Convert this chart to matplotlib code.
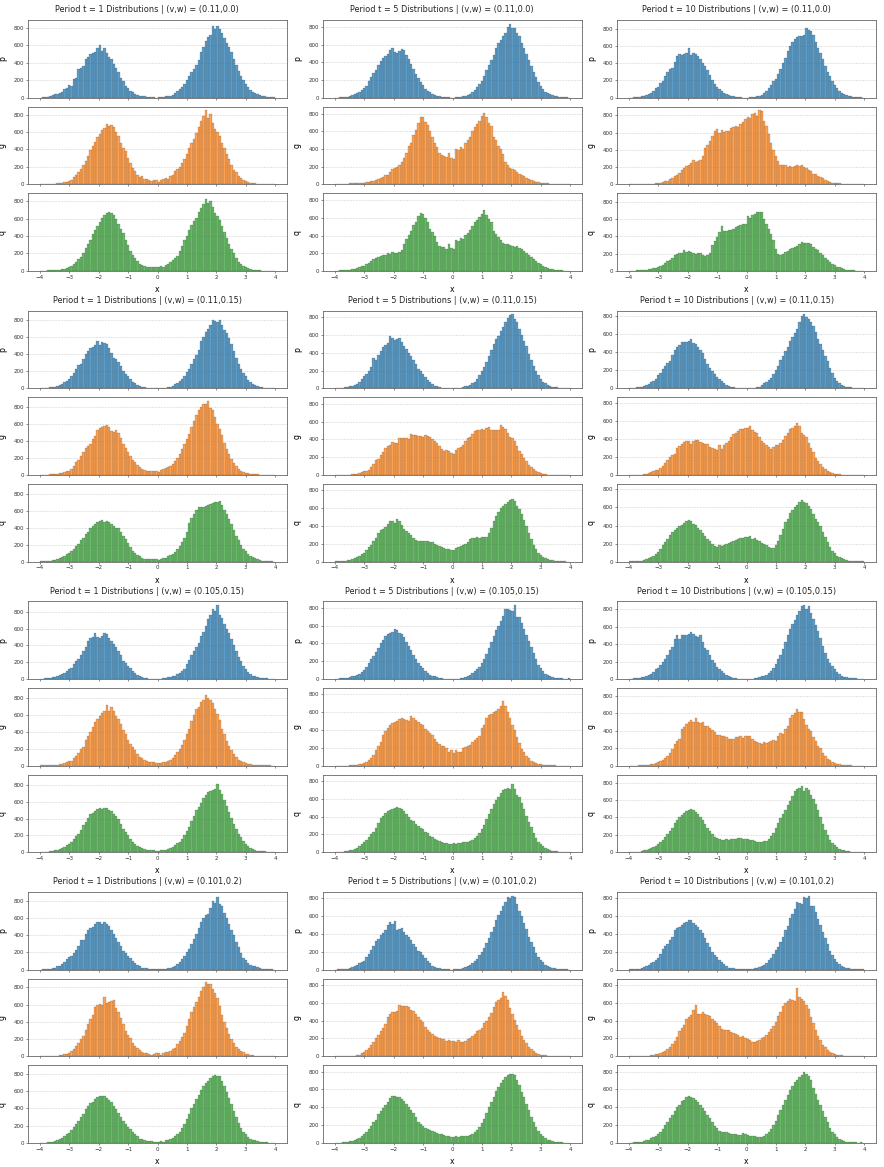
import numpy as np
import matplotlib
matplotlib.use("Agg")
import matplotlib.pyplot as plt

# ---------------- data (bin counts, 100 bins on [-4, 4]) ----------------
bin_edges = np.linspace(-4, 4, 101)
periods = [1, 5, 10]
vw_labels = ["(0.11,0.0)", "(0.11,0.15)", "(0.105,0.15)", "(0.101,0.2)"]
var_names = ["p", "g", "q"]
var_colors = ["#1f77b4", "#ff7f0e", "#2ca02c"]

g1_t1_p = [0,3,5,8,15,30,38,42,50,70, 95,110,150,130,210,230,330,345,360,450,
           470,500,515,520,570,600,540,570,510,470, 450,390,340,290,230,190,140,110,80,60,
           45,35,25,20,15,10,10,5,3,2, 3,5,10,15,20,25,35,50,75,95,
           120,160,200,250,290,330,380,430,520,580, 650,700,720,820,790,820,790,740,690,630,
           580,520,450,380,310,250,200,160,120,90, 70,50,40,28,20,14,10,6,5,8]
g1_t1_g = [5,0,3,5,5,8,8,12,15,20, 25,30,40,55,80,110,140,180,220,270,
           330,390,440,490,540,580,620,650,690,670, 680,660,600,560,470,420,380,300,250,190,
           150,110,80,90,60,60,50,40,55,45, 30,55,60,70,60,90,110,150,180,200,
           250,290,350,420,470,520,590,660,730,790, 850,760,810,700,640,600,560,470,420,350,
           290,220,170,140,100,70,50,40,30,20, 15,10,8,5,3,0,0,0,0,0]
g1_t1_q = [0,2,3,5,5,7,8,10,13,17, 22,30,40,55,75,100,135,160,210,260,
           310,360,420,470,520,560,610,640,660,680, 660,640,600,540,480,430,360,300,230,180,
           150,110,80,65,55,45,40,50,45,40, 40,60,50,65,80,100,125,150,175,230,
           290,350,400,470,530,570,610,680,720,770, 830,780,800,730,670,630,580,520,450,380,
           310,250,200,150,105,75,55,40,28,20, 14,10,7,5,3,2,0,0,0,0]
g1_t5_p = [0,0,3,5,10,12,20,30,40,55, 70,90,110,130,190,230,280,320,370,420,
           450,470,500,540,560,520,510,530,550,540, 480,440,380,330,270,220,180,140,100,80,
           60,45,30,20,15,10,8,5,3,2, 0,3,5,10,15,20,30,45,60,85,
           120,160,190,250,310,370,430,490,560,620, 660,700,740,800,840,790,790,740,700,620,
           560,500,430,360,290,230,180,130,100,70, 55,40,28,20,14,10,7,5,3,2]
g1_t5_g = [0,0,0,0,3,6,10,10,12,14, 15,18,20,28,30,33,40,50,58,70,
           85,100,110,140,170,185,195,220,250,300, 360,430,470,560,620,700,760,760,710,670,
           600,540,470,420,350,330,320,310,350,300, 290,400,390,420,400,470,500,540,610,650,
           680,720,780,810,760,700,660,540,500,440, 400,340,250,220,190,175,165,140,115,100,
           90,75,55,45,35,28,22,16,14,12, 10,8,6,5,4,3,0,0,0,0]
g1_t5_q = [2,3,5,6,8,10,14,18,25,32, 40,50,60,75,90,110,130,150,160,165,
           175,185,200,190,210,205,200,210,235,300, 360,410,450,520,560,620,660,650,600,550,
           480,440,400,330,280,270,270,250,300,255, 250,350,340,370,360,410,430,460,510,550,
           580,610,650,690,640,590,550,450,420,380, 350,320,300,300,290,280,270,280,265,250,
           230,200,180,155,130,110,95,80,60,45, 35,25,18,13,10,7,5,4,3,2]
g1_t10_p = [0,0,3,5,10,15,22,30,45,60, 80,110,130,170,190,250,300,330,350,420,
            480,510,500,510,520,580,500,520,510,480, 450,400,370,320,260,200,160,130,100,80,
            60,45,30,20,15,10,6,4,2,0, 2,4,8,12,18,25,35,55,80,110,
            150,190,220,280,330,400,460,540,600,650, 680,700,720,720,730,810,790,780,730,650,
            580,520,450,370,300,250,190,150,110,80, 60,45,30,22,15,10,7,5,3,2]
g1_t10_g = [0,0,0,0,0,0,0,0,3,4, 5,10,15,18,25,35,42,60,75,95,
            110,135,170,195,215,225,245,280,260,265, 280,330,420,460,500,560,620,640,600,630,
            610,620,620,650,670,680,670,700,720,760, 780,770,820,830,790,860,850,740,680,580,
            480,400,330,270,220,220,230,200,210,200, 210,220,210,220,200,190,170,160,125,115,
            100,85,70,55,35,25,20,15,12,10, 8,6,5,3,0,0,0,0,0,0]
g1_t10_q = [2,3,4,5,8,10,12,15,18,24, 30,35,42,55,70,90,110,130,155,180,
            195,205,210,240,220,230,220,210,200,210, 210,180,170,180,210,300,350,390,450,520,
            460,460,470,480,490,510,520,530,540,550, 640,620,650,660,680,690,680,600,540,490,
            430,360,260,200,180,200,220,230,260,270, 280,290,310,340,320,330,320,310,280,260,
            240,210,180,150,130,100,85,70,50,40, 30,22,15,10,7,5,4,3,0,0]

g2_t1_p = [3,5,8,10,12,18,22,30,42,55, 70,90,110,140,180,230,270,290,350,400,
           440,470,490,510,560,510,540,530,520,480, 420,360,350,310,260,210,170,140,110,80,
           60,42,30,22,14,10,6,5,4,3, 3,5,7,10,14,20,32,48,65,90,
           115,150,190,230,290,340,390,450,560,610, 660,700,740,810,790,780,800,750,690,650,
           590,520,440,360,290,230,180,140,100,75, 55,40,28,22,15,10,7,5,3,2]
g2_t1_g = [3,2,3,5,6,8,10,15,20,28, 35,45,50,75,110,150,180,220,270,320,
           340,370,420,460,530,550,560,575,590,570, 520,500,530,490,440,370,320,270,220,180,
           150,120,90,65,55,50,50,50,45,42, 40,55,75,85,95,110,135,170,195,250,
           300,360,420,480,570,640,710,770,800,830, 840,870,790,760,680,600,540,470,380,310,
           250,190,140,100,70,50,38,28,18,14, 10,10,7,5,5,3,2,0,0,0]
g2_t1_q = [2,3,5,8,12,18,24,32,40,52, 70,90,100,125,150,180,210,250,280,320,
           350,390,420,445,465,480,490,470,480,460, 440,420,400,390,350,300,260,220,170,130,
           100,75,60,45,35,30,35,30,30,25, 20,30,40,45,60,75,85,110,150,180,
           230,280,350,450,510,560,610,640,640,645, 650,670,680,690,700,700,710,660,610,560,
           500,440,370,300,250,200,150,120,90,65, 50,38,25,18,12,9,6,4,2,0]
g2_t5_p = [3,8,6,10,12,18,25,30,38,50, 75,100,140,160,200,240,340,320,370,420,
           460,490,510,590,560,540,550,560,520,480, 440,400,360,320,270,220,200,160,125,90,
           70,50,30,22,14,10,10,6,4,3, 2,3,5,8,15,22,30,40,55,75,
           110,150,190,240,300,360,430,500,550,590, 640,690,750,790,820,830,780,740,670,600,
           530,470,390,320,250,190,150,110,75,55, 38,30,20,16,12,8,5,4,3,5]
g2_t5_g = [0,0,0,0,2,3,5,8,12,14, 18,30,40,48,60,85,120,170,175,220,
           260,300,320,340,365,360,360,420,410,420, 410,400,460,450,445,440,440,430,450,440,
           430,400,380,360,320,290,270,280,270,250, 240,280,300,310,340,380,410,430,460,490,
           505,510,520,500,530,540,510,500,510,500, 560,540,520,470,430,410,380,330,270,230,
           190,160,110,90,65,45,30,20,12,8, 5,4,3,2,0,0,0,0,0,0]
g2_t5_q = [2,3,5,8,12,16,22,28,38,50, 62,80,100,130,160,190,230,270,320,350,
           370,390,420,455,450,435,480,450,410,370, 340,320,300,260,245,235,230,230,235,232,
           225,215,200,185,175,165,150,140,140,135, 130,150,160,175,185,200,225,250,260,270,
           275,270,280,275,280,320,380,450,510,560, 600,620,650,670,690,700,680,620,590,530,
           470,400,320,250,190,140,100,70,55,40, 30,22,15,11,7,5,4,3,0,0]
g2_t10_p = [3,5,8,10,14,18,28,35,48,70, 85,100,150,175,210,250,280,300,370,420,
            460,480,510,510,510,520,550,500,490,460, 420,390,330,270,230,190,160,130,105,80,
            55,40,30,18,12,8,5,4,3,2, 2,3,4,5,10,18,40,55,75,95,
            120,160,200,250,310,360,410,460,530,570, 610,660,740,800,820,790,770,740,690,620,
            550,490,420,360,300,230,170,120,85,60, 40,28,20,16,12,9,6,5,3,2]
g2_t10_g = [2,0,2,3,3,5,7,10,18,28, 40,52,60,75,95,130,165,200,225,230,
            300,325,340,365,380,375,340,380,390,390, 370,355,340,340,310,295,285,280,330,290,
            335,350,380,420,450,470,490,505,515,520, 520,540,500,480,460,420,380,350,335,310,
            290,310,330,335,360,390,430,470,510,525, 540,580,540,470,440,420,360,300,250,190,
            160,120,90,65,45,32,22,15,10,8, 5,4,3,2,0,0,0,0,0,0]
g2_t10_q = [2,3,4,6,8,12,16,24,36,50, 65,85,110,140,180,215,250,290,330,355,
            370,390,410,425,450,460,445,420,410,370, 345,320,280,255,225,195,175,165,180,172,
            185,200,210,218,228,240,252,260,265,270, 270,280,250,260,240,225,205,190,180,165,
            155,150,180,230,290,360,440,470,540,570, 600,630,660,680,655,650,615,580,530,470,
            440,390,330,270,220,165,120,90,65,48, 35,25,16,12,8,5,4,3,3,5]

g3_t1_p = [3,5,8,10,12,18,25,40,48,58, 75,100,120,135,180,220,240,290,330,380,
           450,490,500,550,500,490,510,550,530,490, 450,420,380,330,280,220,190,150,125,95,
           70,45,30,22,14,8,5,4,3,2, 3,5,8,12,18,25,32,40,55,75,
           100,120,180,230,290,330,380,430,510,560, 630,710,760,830,810,880,760,720,660,600,
           550,480,410,330,260,210,160,120,85,60, 40,30,20,16,12,10,6,5,5,3]
g3_t1_g = [3,2,3,3,4,5,6,10,14,18, 28,45,60,50,85,120,150,200,220,310,
           350,400,460,520,560,590,620,650,720,650, 700,650,590,550,490,420,370,310,260,220,
           180,135,100,85,65,55,48,42,40,35, 30,35,40,48,55,70,95,130,160,200,
           250,300,370,440,530,600,670,700,760,780, 840,800,780,740,670,610,540,440,370,290,
           230,190,140,100,70,50,38,30,22,16, 12,10,7,5,4,3,3,2,0,0]
g3_t1_q = [2,3,5,8,12,16,22,30,38,50, 65,85,100,125,155,190,220,260,320,360,
           410,460,470,490,515,520,510,530,520,505, 490,460,430,390,340,280,240,200,160,125,
           100,78,60,45,35,30,30,25,22,20, 20,25,30,30,35,45,60,85,105,125,
           160,200,250,300,370,430,500,540,590,640, 680,710,730,745,755,810,740,690,620,550,
           480,410,340,280,220,175,130,100,75,55, 40,30,20,16,12,9,6,5,3,3]
g3_t5_p = [3,5,10,15,10,15,22,30,38,45, 60,80,100,140,175,220,260,300,350,400,
           440,480,500,515,525,560,550,520,500,470, 420,370,320,270,220,180,150,120,95,70,
           50,38,30,22,14,8,5,4,3,2, 2,3,5,8,15,25,35,50,65,90,
           110,135,180,220,280,350,420,480,550,590, 650,710,780,790,770,760,830,690,690,630,
           560,490,430,360,290,220,160,120,85,60, 42,32,20,16,12,10,6,5,5,10]
g3_t5_g = [0,0,0,0,0,0,2,3,5,8, 15,22,30,45,60,85,120,170,220,260,
           340,390,420,460,480,490,500,520,530,520, 510,500,560,530,510,490,470,450,410,390,
           370,340,300,265,240,225,215,200,150,175, 140,170,155,150,200,210,220,235,265,290,
           310,330,420,450,530,570,580,600,615,630, 670,720,670,600,530,460,400,320,250,190,
           150,110,80,55,38,28,20,15,11,8, 6,5,4,3,0,0,0,0,0,0]
g3_t5_q = [2,3,5,7,9,14,22,30,38,50, 65,90,110,135,165,200,230,270,330,380,
           410,440,460,475,485,495,510,500,485,460, 430,400,360,345,315,290,270,260,225,210,
           185,170,150,135,122,115,108,100,92,90, 100,90,100,105,110,112,120,128,138,160,
           180,210,260,310,370,430,490,540,590,620, 660,695,710,720,705,760,710,640,620,550,
           480,410,340,280,210,160,120,90,65,48, 32,22,15,12,8,6,5,4,3,2]
g3_t10_p = [3,5,8,10,13,18,25,40,48,58, 85,110,130,165,195,235,270,330,370,460,
            500,460,510,510,510,520,540,520,490,480, 500,420,360,330,280,220,180,140,115,90,
            65,45,30,22,14,8,5,4,3,2, 2,3,5,8,15,25,32,40,48,65,
            95,130,170,230,280,350,420,500,580,630, 680,730,780,840,850,800,840,760,690,620,
            550,470,380,300,230,180,150,110,75,55, 38,28,20,16,12,8,6,5,3,2]
g3_t10_g = [0,0,0,0,2,4,5,7,10,13, 20,32,40,48,62,85,110,150,190,250,
            280,310,420,445,480,500,520,500,550,500, 490,500,460,450,430,410,390,350,350,345,
            335,330,310,300,310,325,330,340,320,335, 340,340,300,285,275,265,250,270,260,270,
            285,290,280,340,370,360,420,460,550,580, 600,650,620,610,540,470,420,400,330,280,
            230,200,150,115,80,60,45,30,22,15, 10,8,5,4,3,0,0,0,0,0]
g3_t10_q = [2,3,4,5,8,12,20,28,38,45, 58,75,90,115,145,180,210,240,275,330,
            370,410,430,455,475,490,500,485,465,440, 400,370,320,280,245,205,175,160,150,145,
            140,150,140,155,155,150,160,160,152,150, 150,142,140,125,120,120,120,128,130,150,
            185,215,280,330,390,440,490,540,590,640, 700,725,740,760,700,740,715,660,610,550,
            480,400,320,260,200,140,100,80,55,40, 30,22,15,11,7,5,4,3,2,0]

g4_t1_p = [0,3,5,8,10,15,25,40,48,62, 90,120,150,165,190,230,280,340,350,410,
           460,490,500,530,550,560,530,550,535,510, 460,420,370,320,270,220,190,160,135,100,
           80,55,40,25,18,14,10,6,5,5, 5,5,5,10,16,22,32,48,65,95,
           125,165,200,240,300,360,420,480,560,600, 630,650,720,800,780,840,760,740,660,600,
           530,460,400,320,260,190,140,110,75,55, 45,38,30,18,12,9,6,5,3,2]
g4_t1_g = [0,0,0,0,0,2,3,5,10,15, 25,32,40,60,85,120,160,200,240,310,
           370,430,480,570,600,610,600,690,620,630, 640,650,560,510,450,370,290,250,210,160,
           125,100,70,52,42,35,28,20,30,38, 40,20,40,48,55,65,85,100,140,180,
           220,270,350,430,510,570,630,690,760,800, 860,840,840,780,730,680,590,480,400,330,
           260,200,150,110,80,60,45,32,22,15, 10,8,5,3,2,0,0,0,0,0]
g4_t1_q = [2,3,4,5,8,14,22,30,45,60, 80,105,120,150,185,220,260,300,340,390,
           430,460,480,505,535,550,545,540,525,500, 470,430,390,350,300,250,220,190,160,125,
           100,75,50,42,32,25,20,20,12,12, 15,20,15,28,35,45,62,78,100,130,
           170,220,280,340,400,450,510,560,610,660, 700,720,750,780,790,780,780,720,660,590,
           520,450,370,300,230,170,125,100,65,48, 35,30,20,13,8,6,5,4,3,2]
g4_t5_p = [2,3,5,7,10,13,18,25,36,50, 70,85,100,140,180,220,270,320,345,390,
           410,440,500,530,515,550,440,460,470,420, 390,370,330,290,250,215,195,160,130,95,
           70,45,30,22,14,8,5,4,3,2, 3,5,10,12,22,32,42,58,75,100,
           125,160,200,240,300,360,420,480,560,610, 660,710,760,820,800,830,810,740,660,600,
           520,460,370,310,250,190,140,110,85,58, 40,28,20,16,12,8,6,5,3,2]
g4_t5_g = [0,0,0,0,2,3,5,5,8,12, 20,35,50,72,95,125,160,200,235,280,
           320,360,440,480,500,500,510,580,565,560, 560,555,520,505,470,440,410,380,330,300,
           270,245,230,215,205,198,190,175,180,172, 168,160,180,165,160,175,190,200,225,250,
           280,300,320,370,400,440,490,550,610,630, 650,720,680,630,540,470,410,350,290,230,
           180,150,100,85,60,40,28,20,16,12, 8,5,4,3,2,0,0,0,0,0]
g4_t5_q = [2,3,4,5,8,12,17,25,36,48, 60,75,100,125,155,195,230,260,320,360,
           390,430,460,500,525,530,520,520,495,470, 440,400,370,330,285,240,215,190,165,155,
           140,128,120,112,104,96,88,80,72,70, 70,80,70,75,80,80,82,88,105,125,
           150,175,220,270,330,400,460,520,580,630, 670,700,740,765,770,770,765,700,650,570,
           510,440,370,290,230,175,130,100,75,55, 38,28,20,13,9,7,5,4,3,2]
g4_t10_p = [3,5,8,10,13,18,25,40,55,75, 90,110,130,180,230,270,290,330,370,440,
            465,480,500,525,540,555,560,520,505,480, 440,410,350,300,250,200,170,140,110,85,
            60,40,22,20,14,8,5,4,3,3, 4,5,10,14,18,28,42,58,75,105,
            135,175,220,260,310,370,440,490,580,630, 680,760,750,740,820,800,830,720,720,650,
            570,500,420,350,290,210,160,120,85,60, 40,30,20,16,12,9,6,5,5,10]
g4_t10_g = [0,0,0,0,2,3,4,5,8,12, 17,22,30,38,50,65,85,100,140,170,
            220,280,320,350,420,440,460,520,570,470, 470,500,480,465,450,420,395,370,340,310,
            300,300,290,275,265,250,235,220,230,210, 195,180,160,165,175,185,200,215,235,270,
            310,340,380,450,500,560,600,625,640,630, 620,770,660,645,620,580,530,440,370,300,
            230,180,130,100,70,50,35,25,17,12, 9,7,5,4,3,3,0,0,0,0]
g4_t10_q = [2,3,5,7,9,14,22,30,38,50, 62,78,100,125,155,200,240,280,310,360,
            400,430,470,485,510,530,515,500,485,460, 430,390,360,310,275,230,195,170,135,125,
            120,118,110,102,100,95,90,92,110,95, 88,82,80,75,70,70,70,78,95,120,
            160,200,250,310,370,430,480,540,590,640, 680,705,740,765,790,770,755,700,620,550,
            480,420,360,290,230,170,125,100,65,45, 32,22,15,11,8,6,5,4,5,3]

panels = [
    [[g1_t1_p, g1_t1_g, g1_t1_q], [g1_t5_p, g1_t5_g, g1_t5_q], [g1_t10_p, g1_t10_g, g1_t10_q]],
    [[g2_t1_p, g2_t1_g, g2_t1_q], [g2_t5_p, g2_t5_g, g2_t5_q], [g2_t10_p, g2_t10_g, g2_t10_q]],
    [[g3_t1_p, g3_t1_g, g3_t1_q], [g3_t5_p, g3_t5_g, g3_t5_q], [g3_t10_p, g3_t10_g, g3_t10_q]],
    [[g4_t1_p, g4_t1_g, g4_t1_q], [g4_t5_p, g4_t5_g, g4_t5_q], [g4_t10_p, g4_t10_g, g4_t10_q]],
]

# ---------------- layout ----------------
W, H = 884, 1167
fig = plt.figure(figsize=(W / 100, H / 100), dpi=100)
fig.patch.set_facecolor("white")

col_left = [28, 323, 617]
ax_w = 259
group_top = [20, 310.7, 601.3, 892]
ax_h = 77.7
ax_step = 86.6

TICK_FS = 4.0
LABEL_FS = 5.6
TITLE_FS = 5.9

for gi in range(4):
    for ci in range(3):
        title = f"Period t = {periods[ci]} Distributions | (v,w) = {vw_labels[gi]}"
        fig.text((ci + 0.5) / 3, 1 - (group_top[gi] - 10.3) / H, title,
                 ha="center", va="center", fontsize=TITLE_FS, color="#222222")
        first = None
        for vi in range(3):
            top = group_top[gi] + vi * ax_step
            rect = [col_left[ci] / W, 1 - (top + ax_h) / H, ax_w / W, ax_h / H]
            if first is None:
                ax = fig.add_axes(rect)
                first = ax
            else:
                ax = fig.add_axes(rect, sharex=first, sharey=first)
            heights = panels[gi][ci][vi]
            ax.bar(bin_edges[:-1], heights, width=np.diff(bin_edges), align="edge",
                   facecolor=var_colors[vi], alpha=0.72, edgecolor="#3a3a3a",
                   linewidth=0.18, zorder=2)
            ax.set_axisbelow(True)
            ax.grid(axis="y", linestyle="--", linewidth=0.4, color="#bbbbbb", alpha=0.7)
            ax.set_xticks(np.arange(-4, 5, 1))
            ax.set_yticks([0, 200, 400, 600, 800])
            ax.tick_params(axis="both", labelsize=TICK_FS, length=1.6, width=0.4,
                           pad=1.0, colors="#333333")
            for sp in ax.spines.values():
                sp.set_linewidth(0.6)
                sp.set_color("#666666")
            ax.set_ylabel(var_names[vi], fontsize=LABEL_FS, labelpad=0)
            ax.yaxis.set_label_coords(-0.082, 0.5)
            if vi < 2:
                ax.tick_params(axis="x", labelbottom=False)
            else:
                ax.set_xlabel("x", fontsize=LABEL_FS, labelpad=0)
                ax.xaxis.set_label_coords(0.5, -0.18)
        first.set_xlim(-4.4, 4.4)
        ymax = max(max(h) for h in panels[gi][ci])
        first.set_ylim(0, ymax * 1.05)

fig.savefig("out.png", dpi=100, facecolor="white")
